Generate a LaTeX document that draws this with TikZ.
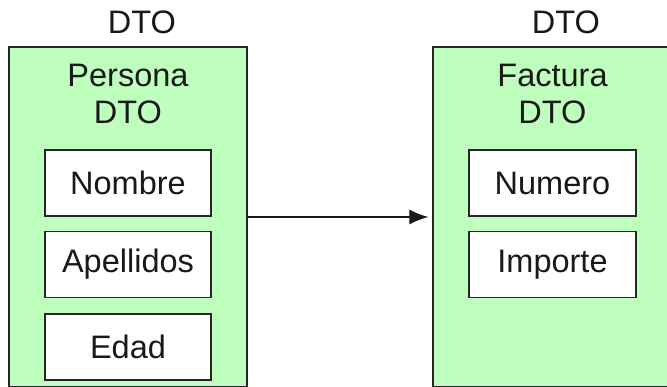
\documentclass[tikz,border=0pt]{standalone}
\usepackage{fontspec}
\setmainfont{Liberation Sans}
\usetikzlibrary{arrows.meta}
\definecolor{dtogreen}{RGB}{190,255,190}
\begin{document}
\begin{tikzpicture}[x=1pt,y=1pt,
  txt/.style={font=\fontsize{32.5}{37}\selectfont, text=black!90},
  dtobox/.style={draw=black!85, line width=1.4pt, fill=dtogreen, rectangle, inner sep=0pt},
  fieldbox/.style={draw=black!85, line width=1.4pt, fill=white, rectangle, inner sep=0pt,
    minimum height=66pt, txt},
  conn/.style={draw=black!90, line width=1.2pt, -{Latex[length=19pt,width=15pt]}, shorten >=4pt}
]
\useasboundingbox (0,0) rectangle (667,-387);
\node[dtobox, minimum width=238pt, minimum height=340pt] (L) at (128,-217) {};
\node[dtobox, minimum width=239pt, minimum height=340pt] (R) at (552.5,-217) {};
\node[txt] (Ltop) at (142,-22) {DTO};
\node[txt] (Rtop) at (566,-22) {DTO};
\node[txt, align=center] (Ltitle) at (128,-94) {Persona\\DTO};
\node[txt, align=center] (Rtitle) at (552.5,-94) {Factura\\DTO};
\node[fieldbox, minimum width=166pt] (nombre) at (128,-183) {Nombre};
\node[fieldbox, minimum width=166pt] (apellidos) at (128,-264.5) {Apellidos};
\node[fieldbox, minimum width=166pt] (edad) at (128,-347) {Edad};
\node[fieldbox, minimum width=167pt] (numero) at (552.5,-183) {Numero};
\node[fieldbox, minimum width=167pt] (importe) at (552.5,-264.5) {Importe};
\draw[conn] (L.east) -- (R.west);
\end{tikzpicture}
\end{document}
